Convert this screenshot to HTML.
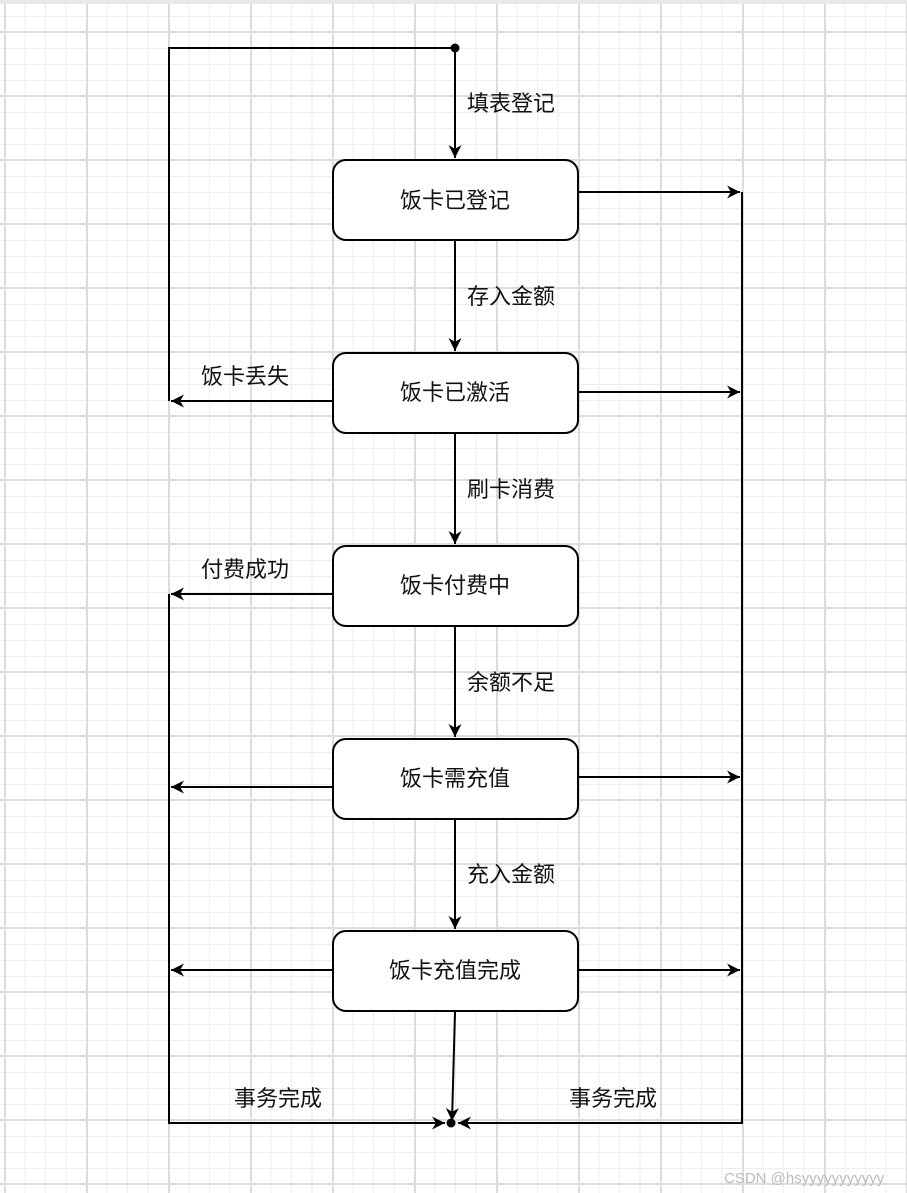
<!DOCTYPE html>
<html><head><meta charset="utf-8"><style>
body{margin:0;width:907px;height:1193px;overflow:hidden;background:#fff;
background-image:
linear-gradient(#dcdcdc 0 2px,transparent 2px),
linear-gradient(90deg,#dcdcdc 0 2px,transparent 2px),
linear-gradient(#eeeeee 0 1px,transparent 1px),
linear-gradient(90deg,#eeeeee 0 1px,transparent 1px);
background-size:907px 64px,82px 1193px,907px 16px,20.5px 1193px;
background-position:0 31px,4px 0,0 0,4px 0;}
svg{position:absolute;left:0;top:0}
text{font-family:"Liberation Sans","Noto Sans CJK SC",sans-serif;font-size:22px;fill:#111}
</style></head><body>
<div style="position:absolute;left:0;top:0;width:907px;height:4px;background:#e8e8e8"></div>
<svg width="907" height="1193" viewBox="0 0 907 1193">
<defs><marker id="a" viewBox="0 0 10 10" refX="10" refY="5" markerWidth="15" markerHeight="13" orient="auto" markerUnits="userSpaceOnUse"><path d="M0,0 L10,5 L0,10 L3,5z" fill="#000"/></marker></defs>
<g stroke="#000" stroke-width="2" fill="none">
<path d="M169,401 V48 H455"/>
<path d="M455,48 V158" marker-end="url(#a)"/>
<path d="M455,241 V351" marker-end="url(#a)"/>
<path d="M455,434 V544" marker-end="url(#a)"/>
<path d="M455,627 V737" marker-end="url(#a)"/>
<path d="M455,820 V929" marker-end="url(#a)"/>
<path d="M455,1012 L452,1121" marker-end="url(#a)"/>
<path d="M333,401 H171" marker-end="url(#a)"/>
<path d="M333,594 H171" marker-end="url(#a)"/>
<path d="M333,787 H171" marker-end="url(#a)"/>
<path d="M333,970 H171" marker-end="url(#a)"/>
<path d="M169,594 V1123 H445" marker-end="url(#a)"/>
<path d="M578,192 H740" marker-end="url(#a)"/>
<path d="M578,392 H740" marker-end="url(#a)"/>
<path d="M578,777 H740" marker-end="url(#a)"/>
<path d="M578,970 H740" marker-end="url(#a)"/>
<path d="M742,192 V1123 H458" marker-end="url(#a)"/>
</g>
<circle cx="455" cy="48" r="4.5"/><circle cx="451" cy="1123" r="4.5"/>
<g fill="#fff" stroke="#000" stroke-width="2">
<rect x="333" y="160" width="245" height="80" rx="13"/>
<rect x="333" y="353" width="245" height="80" rx="13"/>
<rect x="333" y="546" width="245" height="80" rx="13"/>
<rect x="333" y="739" width="245" height="80" rx="13"/>
<rect x="333" y="931" width="245" height="80" rx="13"/>
</g>
<g text-anchor="middle">
<text x="455" y="208">饭卡已登记</text>
<text x="455" y="400">饭卡已激活</text>
<text x="455" y="593">饭卡付费中</text>
<text x="455" y="786">饭卡需充值</text>
<text x="455" y="978">饭卡充值完成</text>
</g>
<text x="467" y="111">填表登记</text>
<text x="467" y="304">存入金额</text>
<text x="467" y="497">刷卡消费</text>
<text x="467" y="690">余额不足</text>
<text x="467" y="882">充入金额</text>
<text x="201" y="384">饭卡丢失</text>
<text x="201" y="577">付费成功</text>
<text x="234" y="1106">事务完成</text>
<text x="569" y="1106">事务完成</text>
<text x="724" y="1183" style="font-size:15px;fill:#bbb">CSDN @hsyyyyyyyyyyy</text>
</svg>
</body></html>
